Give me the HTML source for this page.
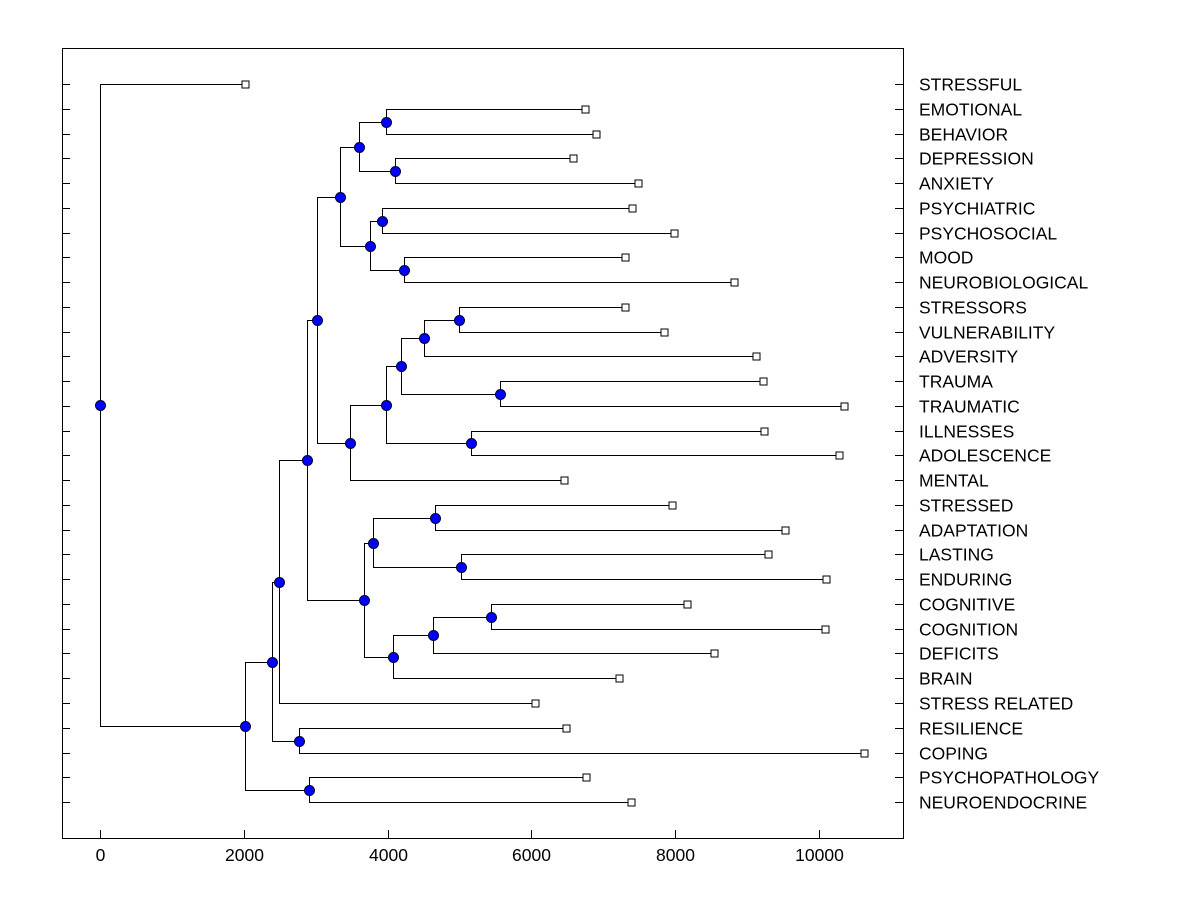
<!DOCTYPE html>
<html><head><meta charset="utf-8"><style>
body{margin:0;background:#fff}
svg text{font-family:"Liberation Sans",Arial,sans-serif;font-size:17.5px;fill:#000}
</style></head><body>
<svg id="chart" width="1200" height="900" xmlns="http://www.w3.org/2000/svg">
<rect x="0" y="0" width="1200" height="900" fill="#fff"/>
<rect x="62.5" y="48.5" width="841" height="790" fill="none" stroke="#000" stroke-width="1"/>
<g id="g"></g>
</svg>
<script>
const labels=["STRESSFUL","EMOTIONAL","BEHAVIOR","DEPRESSION","ANXIETY","PSYCHIATRIC","PSYCHOSOCIAL","MOOD","NEUROBIOLOGICAL","STRESSORS","VULNERABILITY","ADVERSITY","TRAUMA","TRAUMATIC","ILLNESSES","ADOLESCENCE","MENTAL","STRESSED","ADAPTATION","LASTING","ENDURING","COGNITIVE","COGNITION","DEFICITS","BRAIN","STRESS RELATED","RESILIENCE","COPING","PSYCHOPATHOLOGY","NEUROENDOCRINE"];
const leafValues=[2017,6745,6900,6580,7480,7400,7980,7300,8820,7300,7845,9120,9220,10350,9235,10280,6450,7955,9530,9290,10100,8165,10080,8540,7220,6050,6480,10625,6760,7385];
const mergeLeft=[-2,-4,1,-6,-8,4,3,-10,8,-13,9,-15,11,13,7,-18,-20,16,-22,19,20,18,15,23,-27,24,-29,26,-1];
const mergeRight=[-3,-5,2,-7,-9,5,6,-11,-12,-14,10,-16,12,-17,14,-19,-21,17,-23,-24,-25,21,22,-26,-28,25,-30,27,28];
const mergeHeights=[3980,4100,3600,3920,4230,3755,3340,4990,4505,5560,4190,5160,3980,3480,3020,4660,5020,3800,5440,4630,4075,3670,2880,2490,2770,2390,2905,2017,0];
const xTicks=[0,2000,4000,6000,8000,10000];

const NS="http://www.w3.org/2000/svg";
const g=document.getElementById('g');
const X=v=>Math.round(100+v*0.0719)+0.5;
const Y=i=>Math.round(84+i*24.76)+0.5;
function mk(t,a){const e=document.createElementNS(NS,t);for(const k in a)e.setAttribute(k,a[k]);g.appendChild(e);return e;}
labels.forEach((l,i)=>{
  const y=Y(i);
  let t=mk('line',{x1:62,x2:70,y1:y,y2:y,stroke:'#000'});
  
  
  t=mk('line',{x1:895,x2:903,y1:y,y2:y,stroke:'#000'});
  
  
  const tx=mk('text',{x:919,y:Y(i)+6});tx.textContent=l;
  
  
});
xTicks.forEach(v=>{
  const x=X(v);
  const t=mk('line',{x1:x,x2:x,y1:830,y2:838,stroke:'#000'});
  
  
  const tx=mk('text',{x:x,y:861,'text-anchor':'middle'});tx.textContent=v;
  
  
});
const nodeY=[];
function pos(c){return c<0?{x:X(leafValues[-c-1]),y:Y(-c-1)}:{x:X(mergeHeights[c-1]),y:nodeY[c-1]};}
const circles=[];
for(let k=0;k<mergeLeft.length;k++){
  const a=pos(mergeLeft[k]),b=pos(mergeRight[k]);
  const nx=X(mergeHeights[k]);const ny=Math.round((a.y+b.y)/2-0.5)+0.5;nodeY.push(ny);
  const p=mk('path',{d:`M${a.x} ${a.y}H${nx}V${b.y}H${b.x}`,fill:'none',stroke:'#000','stroke-width':1});
  
  
  circles.push([nx,ny]);
}
leafValues.forEach((v,i)=>{
  const r=mk('rect',{x:X(v)-3.5,y:Y(i)-3.5,width:7,height:7,fill:'#fff',stroke:'#000'});
  
  
});
circles.forEach(([x,y])=>{
  const c=mk('circle',{cx:x,cy:y,r:5,fill:'#0000ff',stroke:'#000033','stroke-width':1});
  
  
});
</script>
</body></html>
